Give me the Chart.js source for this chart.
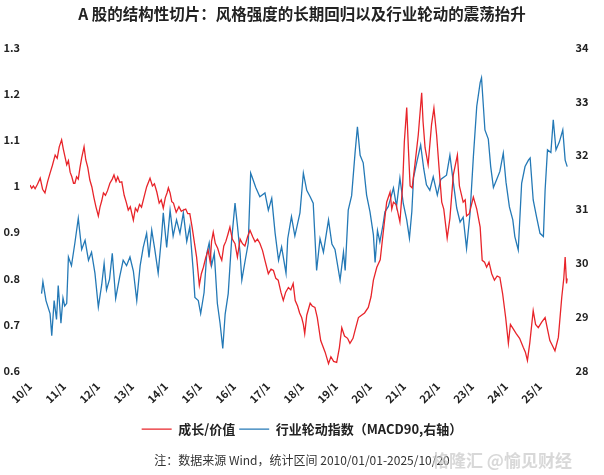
<!DOCTYPE html>
<html>
<head>
<meta charset="utf-8">
<script src="https://cdn.jsdelivr.net/npm/chart.js@4.4.1/dist/chart.umd.min.js"></script>
<style>
  html, body { margin: 0; padding: 0; background: #fff; }
  #wrap { width: 604px; height: 475px; position: relative; }
</style>
</head>
<body>
<div id="wrap"><canvas id="chart"></canvas></div>
<script>
// 成长/价值 (左轴)
const redYears = [
  2010.00, 2010.05, 2010.10, 2010.15, 2010.22, 2010.30, 2010.37, 2010.44, 2010.52, 2010.59,
  2010.66, 2010.74, 2010.80, 2010.86, 2010.93, 2010.98, 2011.03, 2011.08, 2011.13, 2011.18,
  2011.23, 2011.28, 2011.32, 2011.37, 2011.42, 2011.47, 2011.52, 2011.59, 2011.64, 2011.70,
  2011.76, 2011.82, 2011.88, 2011.94, 2012.01, 2012.06, 2012.11, 2012.16, 2012.22, 2012.28,
  2012.35, 2012.42, 2012.47, 2012.53, 2012.58, 2012.64, 2012.70, 2012.77, 2012.83, 2012.89,
  2012.95, 2013.04, 2013.10, 2013.16, 2013.22, 2013.28, 2013.35, 2013.43, 2013.53, 2013.60,
  2013.66, 2013.73, 2013.80, 2013.86, 2013.92, 2013.98, 2014.03, 2014.07, 2014.12, 2014.17,
  2014.22, 2014.30, 2014.38, 2014.45, 2014.51, 2014.58, 2014.64, 2014.70, 2014.77, 2014.83,
  2014.90, 2014.98, 2015.04, 2015.10, 2015.17, 2015.24, 2015.30, 2015.34, 2015.39, 2015.45,
  2015.52, 2015.58, 2015.64, 2015.70, 2015.76, 2015.82, 2015.88, 2015.95, 2016.03, 2016.10,
  2016.18, 2016.25, 2016.32, 2016.40, 2016.47, 2016.55, 2016.62, 2016.69, 2016.76, 2016.84,
  2016.91, 2017.01, 2017.09, 2017.16, 2017.23, 2017.30, 2017.38, 2017.45, 2017.52, 2017.60,
  2017.67, 2017.74, 2017.80, 2017.87, 2017.93, 2017.99, 2018.04, 2018.08, 2018.14, 2018.24,
  2018.30, 2018.38, 2018.45, 2018.55, 2018.68, 2018.78, 2018.85, 2018.93, 2019.02, 2019.10,
  2019.17, 2019.25, 2019.34, 2019.41, 2019.50, 2019.57, 2019.66, 2019.75, 2019.84, 2019.95,
  2020.03, 2020.10, 2020.20, 2020.30, 2020.39, 2020.49, 2020.59, 2020.64, 2020.69, 2020.77,
  2020.88, 2020.96, 2021.01, 2021.08, 2021.13, 2021.18, 2021.24, 2021.32, 2021.42, 2021.52,
  2021.56, 2021.62, 2021.71, 2021.81, 2021.88, 2021.96, 2022.03, 2022.11, 2022.17, 2022.27,
  2022.35, 2022.45, 2022.57, 2022.63, 2022.74, 2022.80, 2022.84, 2022.92, 2023.04, 2023.14,
  2023.24, 2023.30, 2023.37, 2023.43, 2023.50, 2023.58, 2023.66, 2023.74, 2023.82, 2023.90,
  2023.99, 2024.07, 2024.13, 2024.19, 2024.30, 2024.40, 2024.51, 2024.57, 2024.63, 2024.70,
  2024.80, 2024.87, 2024.95, 2025.05, 2025.15, 2025.22, 2025.29, 2025.36, 2025.44, 2025.54,
  2025.64, 2025.70, 2025.74, 2025.78, 2025.80
];
const redValues = [
  1.002, 0.995, 1.000, 0.994, 1.004, 1.017, 0.993, 0.985, 1.010, 1.028,
  1.045, 1.067, 1.060, 1.085, 1.100, 1.080, 1.063, 1.046, 1.055, 1.030,
  1.020, 1.006, 1.006, 1.020, 1.015, 1.040, 1.061, 1.085, 1.057, 1.040,
  1.013, 0.998, 0.975, 0.955, 0.935, 0.955, 0.968, 0.985, 0.980, 0.990,
  1.006, 1.015, 1.024, 1.010, 1.020, 1.008, 1.009, 0.980, 0.965, 0.948,
  0.955, 0.926, 0.952, 0.945, 0.960, 0.954, 0.975, 0.998, 1.017, 1.000,
  1.005, 0.987, 0.963, 0.970, 0.952, 0.975, 0.985, 0.996, 0.985, 0.966,
  0.963, 0.943, 0.955, 0.945, 0.948, 0.950, 0.940, 0.940, 0.910, 0.880,
  0.846, 0.785, 0.810, 0.824, 0.845, 0.861, 0.835, 0.880, 0.900, 0.876,
  0.865, 0.850, 0.839, 0.870, 0.880, 0.895, 0.911, 0.885, 0.875, 0.846,
  0.885, 0.875, 0.870, 0.890, 0.904, 0.890, 0.879, 0.885, 0.876, 0.860,
  0.839, 0.810, 0.820, 0.817, 0.800, 0.796, 0.770, 0.752, 0.770, 0.780,
  0.775, 0.789, 0.752, 0.740, 0.725, 0.715, 0.700, 0.680, 0.720, 0.746,
  0.740, 0.737, 0.715, 0.665, 0.640, 0.615, 0.630, 0.620, 0.618, 0.650,
  0.693, 0.675, 0.670, 0.659, 0.670, 0.690, 0.715, 0.720, 0.725, 0.737,
  0.760, 0.796, 0.824, 0.840, 0.900, 0.965, 0.987, 0.950, 0.965, 0.960,
  0.922, 1.002, 1.096, 1.170, 1.080, 1.000, 0.996, 1.046, 1.111, 1.202,
  1.140, 1.083, 1.046, 1.133, 1.169, 1.110, 1.040, 0.965, 0.950, 0.887,
  0.930, 1.024, 1.067, 1.000, 0.965, 0.970, 0.935, 0.940, 0.976, 0.950,
  0.911, 0.839, 0.835, 0.824, 0.835, 0.810, 0.796, 0.805, 0.802, 0.767,
  0.715, 0.659, 0.700, 0.693, 0.680, 0.670, 0.650, 0.640, 0.622, 0.660,
  0.730, 0.700, 0.693, 0.705, 0.715, 0.690, 0.665, 0.655, 0.643, 0.672,
  0.759, 0.800, 0.846, 0.789, 0.800
];

// 行业轮动指数 MACD90 (右轴)
const blueYears = [
  2010.34, 2010.38, 2010.47, 2010.59, 2010.64, 2010.71, 2010.78, 2010.83, 2010.91, 2010.97,
  2011.02, 2011.08, 2011.13, 2011.22, 2011.32, 2011.42, 2011.52, 2011.62, 2011.72, 2011.81,
  2011.91, 2012.01, 2012.11, 2012.18, 2012.25, 2012.34, 2012.42, 2012.52, 2012.64, 2012.74,
  2012.84, 2012.94, 2013.04, 2013.14, 2013.24, 2013.33, 2013.43, 2013.50, 2013.58, 2013.67,
  2013.77, 2013.87, 2013.92, 2014.02, 2014.12, 2014.21, 2014.31, 2014.41, 2014.51, 2014.61,
  2014.70, 2014.80, 2014.85, 2014.95, 2015.02, 2015.12, 2015.20, 2015.27, 2015.34, 2015.42,
  2015.51, 2015.59, 2015.67, 2015.74, 2015.83, 2015.93, 2016.03, 2016.10, 2016.18, 2016.23,
  2016.33, 2016.42, 2016.49, 2016.53, 2016.64, 2016.76, 2016.91, 2017.01, 2017.11, 2017.21,
  2017.31, 2017.40, 2017.53, 2017.58, 2017.69, 2017.79, 2017.94, 2018.04, 2018.14, 2018.24,
  2018.33, 2018.38, 2018.43, 2018.53, 2018.63, 2018.78, 2018.88, 2018.97, 2019.12, 2019.22,
  2019.27, 2019.36, 2019.46, 2019.56, 2019.63, 2019.71, 2019.80, 2019.90, 2020.00, 2020.10,
  2020.15, 2020.22, 2020.29, 2020.38, 2020.44, 2020.54, 2020.69, 2020.78, 2020.88, 2020.98,
  2021.08, 2021.16, 2021.23, 2021.28, 2021.38, 2021.49, 2021.58, 2021.66, 2021.76, 2021.86,
  2021.98, 2022.08, 2022.25, 2022.35, 2022.45, 2022.55, 2022.65, 2022.74, 2022.84, 2022.94,
  2023.04, 2023.14, 2023.24, 2023.28, 2023.38, 2023.48, 2023.55, 2023.63, 2023.72, 2023.82,
  2023.92, 2024.00, 2024.10, 2024.20, 2024.26, 2024.36, 2024.46, 2024.56, 2024.66, 2024.71,
  2024.80, 2024.90, 2025.00, 2025.10, 2025.15, 2025.22, 2025.32, 2025.39, 2025.47, 2025.57,
  2025.67, 2025.74, 2025.80
];
const blueValues = [
  29.43, 29.65, 29.30, 29.06, 28.65, 29.30, 28.95, 29.58, 28.88, 29.35,
  29.20, 29.25, 30.11, 29.95, 30.37, 30.83, 30.25, 30.42, 30.05, 30.20,
  29.81, 29.18, 29.60, 29.99, 29.50, 29.70, 30.18, 29.34, 29.75, 30.05,
  29.95, 30.11, 29.85, 29.30, 29.95, 30.29, 30.55, 30.10, 30.61, 30.25,
  29.81, 30.50, 30.93, 30.29, 30.98, 30.50, 30.80, 30.55, 30.93, 30.40,
  30.67, 29.86, 29.36, 29.30, 29.06, 29.45, 30.18, 30.37, 29.95, 30.18,
  29.25, 28.88, 28.41, 29.05, 29.43, 30.42, 31.11, 30.70, 30.18, 29.68,
  30.05, 30.37, 31.67, 31.60, 31.40, 31.23, 31.30, 30.98, 31.20, 30.55,
  30.05, 30.30, 29.81, 30.45, 30.86, 30.50, 30.93, 31.67, 31.35, 31.23,
  31.11, 30.49, 29.86, 30.45, 30.20, 30.80, 30.35, 30.25, 29.68, 30.20,
  29.86, 30.98, 31.25, 32.04, 32.53, 32.00, 31.86, 31.26, 30.95, 30.52,
  30.01, 30.60, 30.39, 30.70, 30.95, 31.05, 31.39, 31.05, 31.58, 31.10,
  30.80, 30.46, 30.95, 31.58, 31.88, 32.19, 31.75, 31.45, 31.35, 31.60,
  31.26, 31.55, 31.63, 32.00, 31.50, 31.02, 30.76, 30.85, 30.27, 30.90,
  31.97, 32.91, 33.35, 33.44, 32.47, 32.30, 31.79, 31.40, 31.54, 31.70,
  32.04, 31.50, 31.04, 30.80, 30.49, 30.24, 31.48, 31.79, 31.91, 31.95,
  31.17, 30.85, 30.55, 30.49, 31.35, 32.10, 32.05, 32.66, 32.10, 32.25,
  32.47, 31.91, 31.79
];

const tickYears = [2010, 2011, 2012, 2013, 2014, 2015, 2016, 2017, 2018, 2019, 2020, 2021, 2022, 2023, 2024, 2025];
const tickLabels = ['10/1', '11/1', '12/1', '13/1', '14/1', '15/1', '16/1', '17/1', '18/1', '19/1', '20/1', '21/1', '22/1', '23/1', '24/1', '25/1'];

const RED = '#E8242A';
const BLUE = '#2479B6';
const FONT = '"Noto Sans CJK SC", "Noto Sans", sans-serif';

// 水印
const watermark = {
  id: 'watermark',
  afterDraw(chart) {
    const ctx = chart.ctx;
    ctx.save();
    ctx.font = 'bold 17px ' + FONT;
    ctx.fillStyle = 'rgba(200,200,200,0.7)';
    ctx.textAlign = 'left';
    ctx.textBaseline = 'middle';
    ctx.fillText('格隆汇 @愉见财经', 432, 461);
    ctx.restore();
  }
};

const ctx = document.getElementById('chart').getContext('2d');
new Chart(ctx, {
  type: 'line',
  data: {
    datasets: [{
      label: '成长/价值',
      data: redYears.map((x, i) => ({ x: x, y: redValues[i] })),
      borderColor: RED,
      backgroundColor: RED,
      borderWidth: 1.3,
      pointRadius: 0,
      tension: 0,
      yAxisID: 'y'
    }, {
      label: '行业轮动指数（MACD90,右轴）',
      data: blueYears.map((x, i) => ({ x: x, y: blueValues[i] })),
      borderColor: BLUE,
      backgroundColor: BLUE,
      borderWidth: 1.3,
      pointRadius: 0,
      tension: 0,
      yAxisID: 'y1'
    }]
  },
  options: {
    responsive: true,
    maintainAspectRatio: false,
    animation: false,
    layout: { padding: { left: 0, right: 0, top: 0, bottom: 0 } },
    plugins: {
      title: {
        display: true,
        text: 'A 股的结构性切片：风格强度的长期回归以及行业轮动的震荡抬升',
        color: '#222',
        font: { family: FONT, size: 15.5, weight: 'bold' },
        padding: { top: 5, bottom: 24 }
      },
      legend: {
        display: true,
        position: 'bottom',
        labels: {
          usePointStyle: true,
          pointStyle: 'line',
          pointStyleWidth: 30,
          boxHeight: 13,
          padding: 4,
          color: '#222',
          font: { family: FONT, size: 13, weight: 'bold' }
        }
      },
      subtitle: {
        display: true,
        position: 'bottom',
        text: '注：数据来源 Wind，统计区间 2010/01/01-2025/10/20',
        color: '#333',
        font: { family: FONT, size: 12, weight: 'normal' },
        padding: { top: 8, bottom: 7 }
      },
      tooltip: { enabled: false }
    },
    scales: {
      x: {
        type: 'linear',
        min: 2010,
        max: 2025.9,
        grid: { display: false, drawTicks: false },
        border: { display: false },
        afterBuildTicks: scale => { scale.ticks = tickYears.map(v => ({ value: v })); },
        afterFit: scale => { scale.height = 48; },
        ticks: {
          autoSkip: false,
          maxRotation: 45,
          minRotation: 45,
          padding: 9,
          color: '#222',
          font: { family: FONT, size: 11, weight: 'bold' },
          callback: value => tickLabels[tickYears.indexOf(value)]
        }
      },
      y: {
        position: 'left',
        min: 0.6,
        max: 1.3,
        grid: { display: false, drawTicks: false },
        border: { display: false },
        afterFit: scale => { scale.width = 30; },
        ticks: {
          stepSize: 0.1,
          padding: 10,
          color: '#222',
          font: { family: FONT, size: 11, weight: 'bold' },
          callback: value => String(Number(value.toFixed(1)))
        }
      },
      y1: {
        position: 'right',
        min: 28,
        max: 34,
        grid: { display: false, drawTicks: false },
        border: { display: false },
        afterFit: scale => { scale.width = 33.4; },
        ticks: {
          stepSize: 1,
          padding: 5,
          color: '#222',
          font: { family: FONT, size: 11, weight: 'bold' }
        }
      }
    }
  },
  plugins: [watermark]
});
</script>
</body>
</html>
